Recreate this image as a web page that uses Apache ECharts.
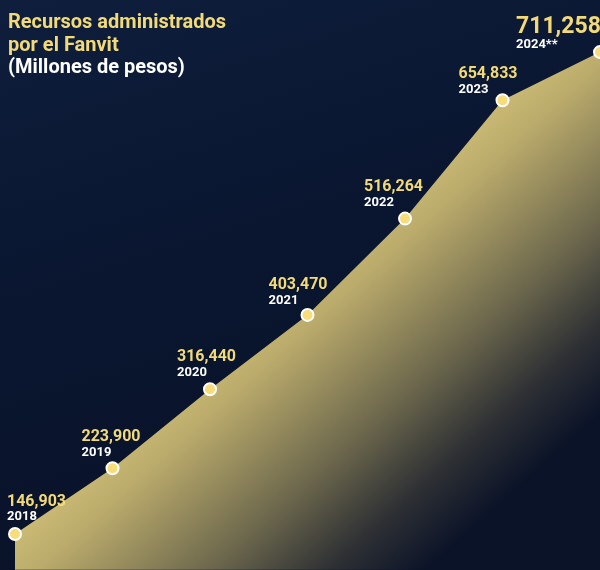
<!DOCTYPE html>
<html>
<head>
<meta charset="utf-8">
<script src="https://cdn.jsdelivr.net/npm/echarts@6/dist/echarts.min.js"></script>
<style>
html,body{margin:0;padding:0;background:#0b1730;}
#c{width:600px;height:570px;}
</style>
</head>
<body>
<div id="c"></div>
<script>
const years = ['2018','2019','2020','2021','2022','2023','2024**'];
const values = [146903, 223900, 316440, 403470, 516264, 654833, 711258];
const titleLines = ['Recursos administrados', 'por el Fanvit', '(Millones de pesos)'];

// label placement (styling only)
const labelOffsets = [[-8, 3], [-31, 4.5], [-33, 3.5], [-39, 5.5], [-41, 4], [-44, 9], [-84, 13]];

const fmt = v => v.toLocaleString('en-US');

const chart = echarts.init(document.getElementById('c'), null, {renderer: 'canvas'});

const seriesData = values.map((v, i) => {
  const last = i === values.length - 1;
  return {
    value: v,
    label: {
      show: true,
      position: 'top',
      align: 'left',
      verticalAlign: 'bottom',
      distance: 6,
      offset: labelOffsets[i],
      formatter: '{v|' + fmt(v) + '}\n{y|' + years[i] + '}',
      rich: {
        v: {
          color: '#f2da78',
          fontFamily: 'Roboto',
          fontWeight: 'bold',
          fontSize: last ? 23 : 16,
          lineHeight: last ? 22 : 17,
          letterSpacing: -0.3
        },
        y: {
          color: '#ffffff',
          fontFamily: 'Roboto',
          fontWeight: 'bold',
          fontSize: 13,
          lineHeight: 14
        }
      }
    }
  };
});

chart.setOption({
  backgroundColor: {
    type: 'linear', x: 0, y: 0, x2: 0.3, y2: 1,
    colorStops: [
      {offset: 0, color: '#0e1e3c'},
      {offset: 0.5, color: '#0a1630'},
      {offset: 1, color: '#091228'}
    ]
  },
  animation: false,
  graphic: [{
    type: 'text',
    left: 8,
    top: 13,
    style: {
      text: '{a|' + titleLines[0] + '}\n{a|' + titleLines[1] + '}\n{b|' + titleLines[2] + '}',
      rich: {
        a: {fill: '#f2da78', fontFamily: 'Roboto', fontWeight: 'bold', fontSize: 20, lineHeight: 22.5},
        b: {fill: '#ffffff', fontFamily: 'Roboto', fontWeight: 'bold', fontSize: 20, lineHeight: 22.5}
      }
    }
  }],
  grid: {left: 15, right: -3, top: 61.7, bottom: 0.2, containLabel: false},
  xAxis: {
    type: 'category',
    data: years,
    boundaryGap: false,
    show: false
  },
  yAxis: {
    type: 'value',
    min: 105000,
    max: 700000,
    show: false,
    splitLine: {show: false}
  },
  series: [{
    type: 'line',
    data: seriesData,
    clip: false,
    symbol: 'circle',
    symbolSize: 12,
    itemStyle: {color: '#f6dc7a', borderColor: '#ffffff', borderWidth: 2},
    lineStyle: {width: 0},
    areaStyle: {
      opacity: 1,
      color: {
        type: 'linear', global: true,
        x: 274.5, y: 305.8, x2: 473.6, y2: 527.5,
        colorStops: [
          {offset: 0, color: '#c9b974'},
          {offset: 0.12, color: '#bcac6c'},
          {offset: 0.5, color: '#6f6a4e'},
          {offset: 0.78, color: '#2e3034'},
          {offset: 1, color: '#0b1328'}
        ]
      }
    }
  }]
});
</script>
</body>
</html>
